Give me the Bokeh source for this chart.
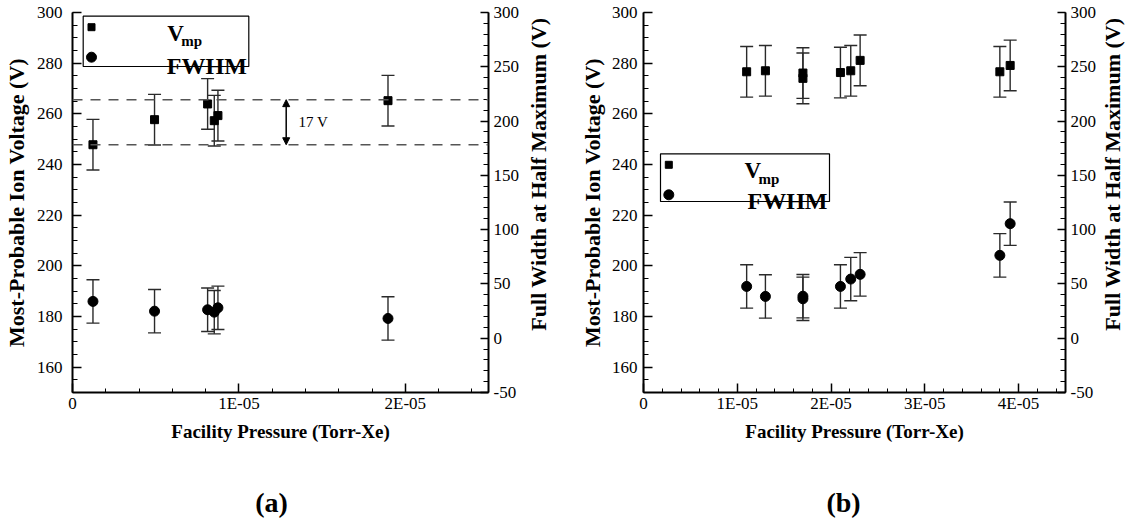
import math
import numpy as np
from bokeh.plotting import figure
from bokeh.models import (Range1d, LinearAxis, FixedTicker, CustomJSTickFormatter,
                          Span, Arrow, NormalHead)
from bokeh.layouts import row, column
from bokeh.core.properties import value
from bokeh.embed import file_html
from bokeh.resources import INLINE

# ---------------- data ----------------
# panel (a)
press_a = [1.23e-6, 4.93e-6, 8.12e-6, 8.52e-6, 8.74e-6, 1.896e-5]
vmp_a = [247.8, 257.7, 263.9, 257.3, 259.3, 265.2]
vmp_err_a = [10, 10, 10, 10, 10, 10]
fwhm_a = [33.9, 24.9, 26.2, 24.0, 28.0, 18.2]
fwhm_err_a = [20, 20, 20, 20, 20, 20]
ref_lines_a = [247.8, 265.6]
ref_label_a = "17 V"

# panel (b)
press_b = [1.10e-5, 1.30e-5, 1.70e-5, 1.70e-5, 2.10e-5, 2.21e-5, 2.31e-5, 3.80e-5, 3.91e-5]
vmp_b = [276.6, 277.0, 276.1, 274.0, 276.3, 277.0, 281.1, 276.6, 279.1]
vmp_err_b = [10, 10, 10, 10, 10, 10, 10, 10, 10]
fwhm_b = [47.7, 38.5, 38.7, 36.3, 47.7, 54.5, 58.8, 76.3, 105.5]
fwhm_err_b = [20, 20, 20, 20, 20, 20, 20, 20, 20]

# ticks / labels
x_ticks_a = [0, 1e-5, 2e-5]
x_labels_a = ["0", "1E-05", "2E-05"]
x_ticks_b = [0, 1e-5, 2e-5, 3e-5, 4e-5]
x_labels_b = ["0", "1E-05", "2E-05", "3E-05", "4E-05"]
vmp_ticks = [160, 180, 200, 220, 240, 260, 280, 300]
vmp_labels = ["160", "180", "200", "220", "240", "260", "280", "300"]
fwhm_ticks = [-50, 0, 50, 100, 150, 200, 250, 300]
fwhm_labels = ["-50", "0", "50", "100", "150", "200", "250", "300"]

x_title = "Facility Pressure (Torr-Xe)"
yl_title = "Most-Probable Ion Voltage (V)"
yr_title = "Full Width at Half Maximum (V)"
legend_v, legend_sub, legend_fwhm = "V", "mp", "FWHM"
captions = ["(a)", "(b)"]

FONT = "Liberation Serif"
FH = 380
TOP, BOT = 12, 83
H_MAIN = TOP + FH + BOT      # 475
H_CAP = 523 - H_MAIN         # 48
ERR_COLOR = "#2a2a2a"

FMT_CODE = """
for (let i = 0; i < vals.length; i++) { if (Math.abs(vals[i] - tick) < 1e-12) return labs[i]; }
return "";
"""


def fmt(ticks, labels):
    return CustomJSTickFormatter(args=dict(vals=ticks, labs=labels), code=FMT_CODE)


def style_axis(ax, label, label_size, tick_in, minor_in, lab_standoff, axlab_standoff):
    if label:
        ax.axis_label = label
    ax.axis_label_text_font = FONT
    ax.axis_label_text_font_style = "bold"
    ax.axis_label_text_font_size = label_size
    ax.axis_label_text_color = "black"
    ax.axis_label_standoff = axlab_standoff
    ax.major_label_text_font = FONT
    ax.major_label_text_font_style = "normal"
    ax.major_label_text_font_size = "17px"
    ax.major_label_text_color = "black"
    ax.major_label_standoff = lab_standoff
    ax.major_tick_in = tick_in
    ax.major_tick_out = 0
    ax.minor_tick_in = minor_in
    ax.minor_tick_out = 0
    ax.axis_line_width = 2
    ax.axis_line_color = "black"
    ax.major_tick_line_width = 1.5
    ax.major_tick_line_color = "black"
    ax.minor_tick_line_width = 1
    ax.minor_tick_line_color = "black"


def legend(p, bx, by, bw, bh):
    kw = dict(x_range_name="px", y_range_name="px")
    p.quad(left=[bx], right=[bx + bw], top=[by], bottom=[by + bh], fill_color="white",
           line_color="black", line_width=1.2, **kw)
    p.scatter([bx + 8.3], [by + 11], marker="square", size=7, color="black", **kw)
    p.scatter([bx + 8.3], [by + 41], marker="circle", size=10, color="black", **kw)
    p.text([bx + 84], [by + 17], text=[legend_v], text_font=value(FONT), text_font_style="bold",
           text_font_size="23px", text_baseline="alphabetic", text_align="left", **kw)
    p.text([bx + 98], [by + 25], text=[legend_sub], text_font=value(FONT), text_font_style="bold",
           text_font_size="15px", text_baseline="alphabetic", text_align="left", **kw)
    p.text([bx + bw - 2], [by + bh - 1], text=[legend_fwhm], text_font=value(FONT),
           text_font_style="bold", text_font_size="24px", text_baseline="alphabetic",
           text_align="right", **kw)


def plain(width, height):
    f = figure(width=width, height=height, x_range=Range1d(0, width), y_range=Range1d(height, 0),
               output_backend="svg", toolbar_location=None, min_border=0,
               x_axis_type=None, y_axis_type=None)
    f.outline_line_color = None
    f.background_fill_color = "white"
    f.border_fill_color = "white"
    return f


def side_title(width, cx):
    s = plain(width, H_MAIN)
    s.text(x=[cx], y=[TOP + FH / 2], text=[yr_title], angle=math.pi / 2, text_align="center",
           text_baseline="middle", text_font=value(FONT), text_font_style="bold",
           text_font_size="22px", text_color="black")
    return s


def build(x_max, xticks, xlabels, fw, mb_left, mb_right, press, vmp, vmp_err, fwhm, fwhm_err,
          left_std, right_std):
    p = figure(width=mb_left + fw + mb_right, height=H_MAIN,
               x_range=Range1d(0, x_max), y_range=Range1d(150, 300),
               output_backend="svg", toolbar_location=None,
               min_border_left=mb_left, min_border_right=mb_right,
               min_border_top=TOP, min_border_bottom=BOT,
               x_axis_type=None, y_axis_type=None)
    p.extra_x_ranges = {"px": Range1d(0, fw)}
    p.extra_y_ranges = {"px": Range1d(FH, 0), "fwhm": Range1d(-50, 300)}
    p.outline_line_color = None
    p.background_fill_color = "white"
    p.border_fill_color = "white"

    xa = LinearAxis()
    xa.ticker = FixedTicker(ticks=xticks, minor_ticks=list(np.arange(0, x_max + 1e-12, 2e-6)))
    xa.formatter = fmt(xticks, xlabels)
    style_axis(xa, x_title, "19px", 9, 4, 1, 5)
    p.add_layout(xa, "below")

    ya = LinearAxis()
    ya.ticker = FixedTicker(ticks=vmp_ticks, minor_ticks=list(range(150, 301, 5)))
    ya.formatter = fmt(vmp_ticks, vmp_labels)
    style_axis(ya, yl_title, "22px", 9, 5, left_std[0], left_std[1])
    p.add_layout(ya, "left")

    yr = LinearAxis(y_range_name="fwhm")
    yr.ticker = FixedTicker(ticks=fwhm_ticks, minor_ticks=list(range(-50, 301, 10)))
    yr.formatter = fmt(fwhm_ticks, fwhm_labels)
    style_axis(yr, None, "22px", 8, 5, right_std, 0)
    p.add_layout(yr, "right")

    vlo = [v - e for v, e in zip(vmp, vmp_err)]
    vhi = [v + e for v, e in zip(vmp, vmp_err)]
    p.segment(x0=press, y0=vlo, x1=press, y1=vhi, line_color=ERR_COLOR, line_width=1.4)
    p.scatter(press, vlo, marker="dash", size=13, line_color=ERR_COLOR, line_width=1.4)
    p.scatter(press, vhi, marker="dash", size=13, line_color=ERR_COLOR, line_width=1.4)

    flo = [v - e for v, e in zip(fwhm, fwhm_err)]
    fhi = [v + e for v, e in zip(fwhm, fwhm_err)]
    p.segment(x0=press, y0=flo, x1=press, y1=fhi, line_color=ERR_COLOR, line_width=1.4,
              y_range_name="fwhm")
    p.scatter(press, flo, marker="dash", size=13, line_color=ERR_COLOR, line_width=1.4,
              y_range_name="fwhm")
    p.scatter(press, fhi, marker="dash", size=13, line_color=ERR_COLOR, line_width=1.4,
              y_range_name="fwhm")

    p.scatter(press, vmp, marker="square", size=8, color="black")
    p.scatter(press, fwhm, marker="circle", size=10, color="black", y_range_name="fwhm")
    return p


# panel (a): 72 + 416 + 36 = 524
p1 = build(2.5e-5, x_ticks_a, x_labels_a, 416, 72, 36, press_a, vmp_a, vmp_err_a, fwhm_a,
           fwhm_err_a, (10, 5), 5)
for loc in ref_lines_a:
    p1.add_layout(Span(location=loc, dimension="width", line_color="#555555", line_width=1.5,
                       line_dash="10 8"))
p1.add_layout(Arrow(start=NormalHead(size=7, fill_color="black", line_color="black"),
                    end=NormalHead(size=7, fill_color="black", line_color="black"),
                    x_start=213.7, y_start=ref_lines_a[0], x_end=213.7, y_end=ref_lines_a[1],
                    x_range_name="px", line_width=1.5, line_color="black"))
p1.text(x=[226], y=[sum(ref_lines_a) / 2], text=[ref_label_a], x_range_name="px",
        text_font=value(FONT), text_font_size="15px", text_baseline="middle", text_align="left")
legend(p1, 10.7, 3.7, 165.6, 50.3)
s1 = side_title(30, 14)            # 524 .. 554

# panel (b): 89 + 422 + 36 = 547 -> 554 .. 1101
p2 = build(4.5e-5, x_ticks_b, x_labels_b, 422, 89, 36, press_b, vmp_b, vmp_err_b, fwhm_b,
           fwhm_err_b, (6, 4), 5)
legend(p2, 17, 141.3, 169, 47.7)
s2 = side_title(32, 11)            # 1101 .. 1133

cap = plain(1133, H_CAP)
cap.text(x=[271, 843], y=[27, 27], text=captions, text_align="center", text_baseline="middle",
         text_font=value(FONT), text_font_style="bold", text_font_size="28px", text_color="black")

layout = column(row(p1, s1, p2, s2), cap)
open("out.html", "w").write(file_html(layout, INLINE))
